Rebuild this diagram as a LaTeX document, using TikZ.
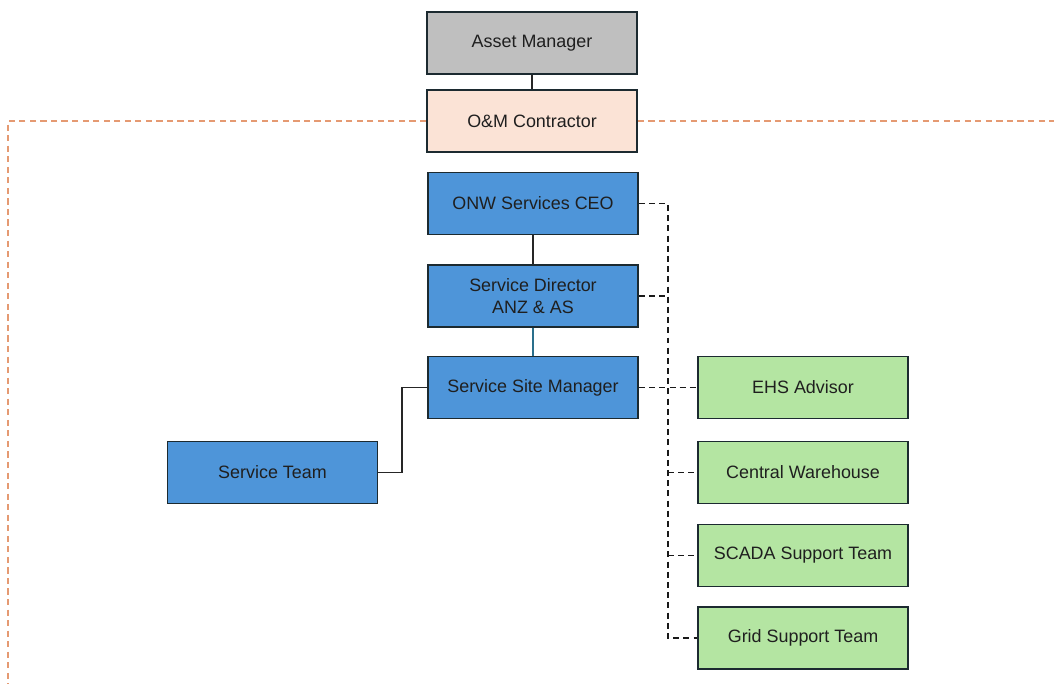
\documentclass[tikz,border=0pt]{standalone}
\usepackage{fontspec}
\setmainfont{Liberation Sans}
\usepackage{tikz}
\usetikzlibrary{positioning}
\usepackage{xcolor}
\definecolor{amgray}{HTML}{BFBFBF}
\definecolor{ompeach}{HTML}{FBE3D6}
\definecolor{onwblue}{HTML}{4E95D9}
\definecolor{supgreen}{HTML}{B4E5A2}
\definecolor{scopeorange}{HTML}{E59A72}
\definecolor{edgedark}{HTML}{1C2A30}
\definecolor{linkteal}{HTML}{2A6F8C}

\begin{document}
\begin{tikzpicture}[x=0.02cm,y=-0.02cm,
  orgbox/.style={draw=edgedark,line width=1.1pt,minimum width=4.2cm,minimum height=1.24cm,align=center,font=\fontsize{10.2}{12.5}\selectfont,text=black!88},
  dashlink/.style={line width=1.05pt,black!90,dash pattern=on 3.4pt off 2.4pt},
  solidlink/.style={line width=1.1pt,black!85}]
\useasboundingbox (0,0) rectangle (1054,684);
% top of the chain
\node[orgbox,fill=amgray] (am) at (532,43) {Asset Manager};
\node[orgbox,fill=ompeach] (om) at (532,121) {O\&M Contractor};
% contractor scope
\draw[scopeorange,line width=0.9pt,dash pattern=on 3.5pt off 2.5pt] (om.west) -- (8,121) -- (8,684);
\draw[scopeorange,line width=0.9pt,dash pattern=on 3.5pt off 2.5pt] (om.east) -- (1054,121);
% ONW services
\node[orgbox,fill=onwblue] (ceo) at (533,203.5) {ONW Services CEO};
\node[orgbox,fill=onwblue] (dir) at (533,296) {Service Director\\ANZ \& AS};
\node[orgbox,fill=onwblue] (site) at (533,387.5) {Service Site Manager};
\node[orgbox,fill=onwblue] (team) at (272.5,472.5) {Service Team};
% support functions
\node[orgbox,fill=supgreen] (ehs) at (803,387.5) {EHS Advisor};
\node[orgbox,fill=supgreen] (ware) at (803,472.5) {Central Warehouse};
\node[orgbox,fill=supgreen] (scada) at (803,555.5) {SCADA Support Team};
\node[orgbox,fill=supgreen] (grid) at (803,638) {Grid Support Team};
% reporting lines
\draw[solidlink] (am) -- (om);
\draw[solidlink] (ceo) -- (dir);
\draw[line width=1.1pt,linkteal] (dir) -- (site);
\draw[solidlink] (site.west) -- ++(-25,0) |- (team.east);
% dotted lines
\coordinate (jtop) at (668,203.5);
\coordinate (jbot) at (668,638);
\draw[dashlink] (ceo.east) -- (jtop) -- (jbot) -- (grid.west);
\draw[dashlink] (dir.east) -- (dir.east -| jtop);
\draw[dashlink] (site.east) -- (ehs.west);
\draw[dashlink] (ware.west -| jtop) -- (ware.west);
\draw[dashlink] (scada.west -| jtop) -- (scada.west);
\end{tikzpicture}
\end{document}
